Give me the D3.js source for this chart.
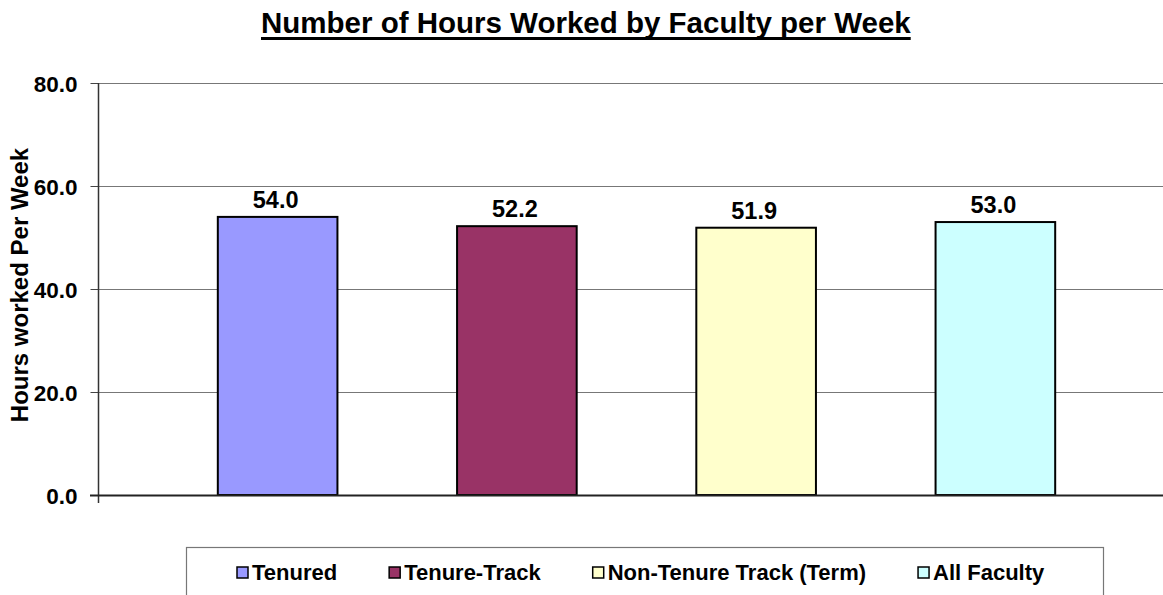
<!DOCTYPE html>
<html>

<head>
    <script type="text/javascript" src="https://cdnjs.cloudflare.com/ajax/libs/d3/7.8.5/d3.min.js"></script>
    <style>
        body {
            margin: 0;
            background: white;
        }

        svg text {
            font-family: "Liberation Sans", Arial, sans-serif;
            font-weight: bold;
            fill: black;
        }

    </style>
</head>

<body>
    <script>
        var series = ["Tenured", "Tenure-Track", "Non-Tenure Track (Term)", "All Faculty"];
        var hours = [54.0, 52.2, 51.9, 53.0];
        var yTicks = [0, 20, 40, 60, 80];
        var colors = ["#9999ff", "#993366", "#ffffcc", "#ccffff"];

        var width = 1163,
            height = 595,
            plotLeft = 98,
            plotRight = 1163,
            plotTop = 83,
            plotBottom = 495;

        var svg = d3.select('body')
            .append('svg')
            .attr('width', width)
            .attr('height', height);

        var y = d3.scaleLinear()
            .domain([0, 80])
            .range([plotBottom, plotTop]);

        var x = d3.scaleBand()
            .domain(series)
            .range([158, 1115])
            .paddingInner(0.5)
            .paddingOuter(0.25);

        var color = d3.scaleOrdinal()
            .domain(series)
            .range(colors);

        // title, underline drawn by hand so it is thick like the original
        var title = svg.append('text')
            .attr('x', 261)
            .attr('y', 33)
            .style('font-size', '29.5px')
            .text('Number of Hours Worked by Faculty per Week');
        var tw = title.node().getComputedTextLength();
        svg.append('line')
            .attr('x1', 261)
            .attr('x2', 261 + tw)
            .attr('y1', 38.5)
            .attr('y2', 38.5)
            .style('stroke', 'black')
            .style('stroke-width', 3);

        // gridlines
        svg.append('g')
            .selectAll('line')
            .data(yTicks.filter(function(d) { return d > 0; }))
            .enter()
            .append('line')
            .attr('x1', plotLeft)
            .attr('x2', plotRight)
            .attr('y1', function(d) { return Math.round(y(d)) + 0.5; })
            .attr('y2', function(d) { return Math.round(y(d)) + 0.5; })
            .style('stroke', '#777')
            .style('stroke-width', 1.2);

        // y axis
        var yAxis = d3.axisLeft(y)
            .tickValues(yTicks)
            .tickFormat(d3.format('.1f'))
            .tickSize(8)
            .tickPadding(13);

        var ya = svg.append('g')
            .attr('transform', 'translate(' + (plotLeft + 0.5) + ',0)')
            .call(yAxis);
        ya.select('.domain').remove();
        ya.selectAll('.tick line').style('stroke', '#444');
        ya.selectAll('.tick text')
            .style('font-size', '22.5px')
            .attr('dy', '0.36em');

        svg.append('line')
            .attr('x1', plotLeft + 0.5)
            .attr('x2', plotLeft + 0.5)
            .attr('y1', plotTop)
            .attr('y2', plotBottom + 8)
            .style('stroke', '#333')
            .style('stroke-width', 1.5);

        // bars
        svg.append('g')
            .selectAll('rect')
            .data(hours)
            .enter()
            .append('rect')
            .attr('x', function(d, i) { return x(series[i]); })
            .attr('y', function(d) { return y(d); })
            .attr('width', x.bandwidth())
            .attr('height', function(d) { return plotBottom - y(d); })
            .style('fill', function(d, i) { return color(series[i]); })
            .style('stroke', 'black')
            .style('stroke-width', 2);

        // x axis line
        svg.append('line')
            .attr('x1', plotLeft - 8)
            .attr('x2', plotRight)
            .attr('y1', plotBottom + 0.5)
            .attr('y2', plotBottom + 0.5)
            .style('stroke', '#222')
            .style('stroke-width', 2);

        // value labels
        svg.append('g')
            .selectAll('text')
            .data(hours)
            .enter()
            .append('text')
            .attr('x', function(d, i) { return x(series[i]) + x.bandwidth() / 2 - 2; })
            .attr('y', function(d) { return y(d) - 9; })
            .attr('text-anchor', 'middle')
            .style('font-size', '23.5px')
            .text(function(d) { return d3.format('.1f')(d); });

        // y label
        svg.append('text')
            .attr('transform', 'translate(28,285) rotate(-90)')
            .attr('text-anchor', 'middle')
            .style('font-size', '24px')
            .text('Hours worked Per Week');

        // legend
        var legend = svg.append('g');
        legend.append('rect')
            .attr('x', 186.5)
            .attr('y', 547.5)
            .attr('width', 917)
            .attr('height', 60)
            .style('fill', 'white')
            .style('stroke', '#777')
            .style('stroke-width', 1.2);

        var items = legend.selectAll('g.item')
            .data(series)
            .enter()
            .append('g')
            .attr('class', 'item');

        items.append('rect')
            .attr('width', 11)
            .attr('height', 11)
            .attr('y', 567)
            .style('fill', function(d) { return color(d); })
            .style('stroke', 'black')
            .style('stroke-width', 1.5);

        items.append('text')
            .attr('x', 15)
            .attr('y', 580)
            .style('font-size', '22px')
            .text(function(d) { return d; });

        var gap = 52, widths = [];
        items.each(function(d) {
            widths.push(15 + d3.select(this).select('text').node().getComputedTextLength());
        });
        var cx = 237;
        items.attr('transform', function(d, i) {
            var tx = cx;
            cx += widths[i] + gap;
            return 'translate(' + tx + ',0)';
        });

    </script>
</body>

</html>
